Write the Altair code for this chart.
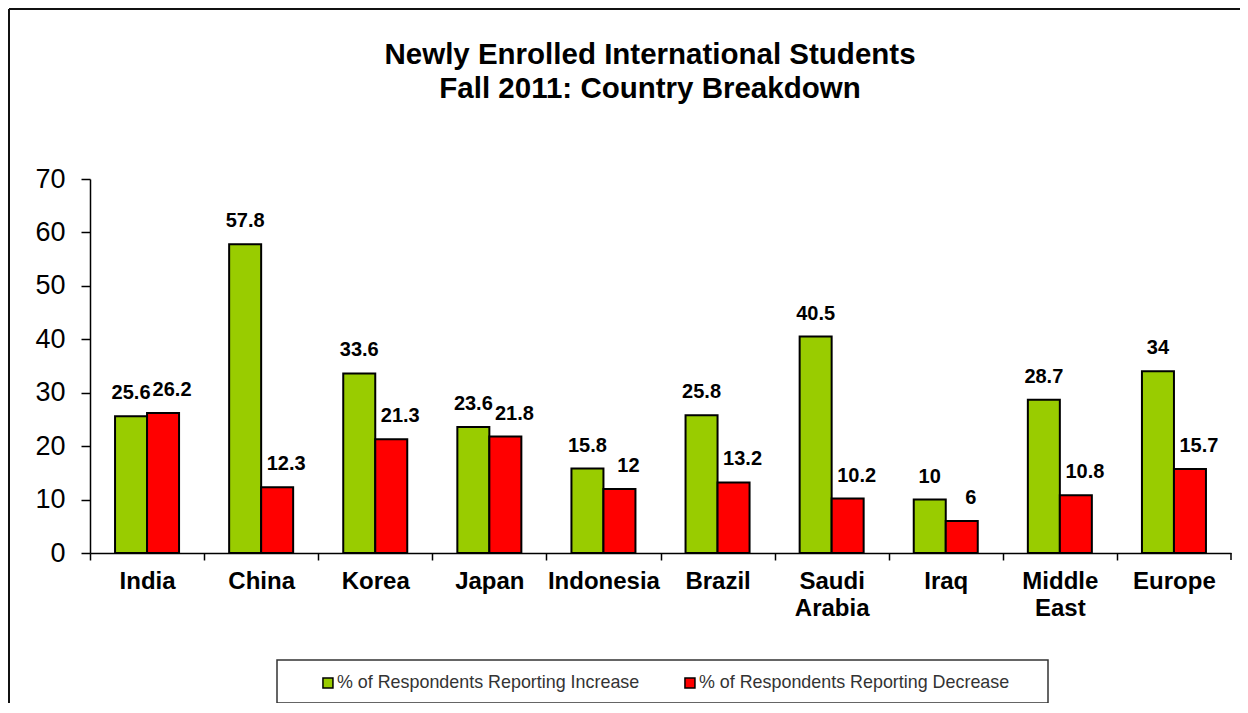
import altair as alt
import pandas as pd

title_lines = ["Newly Enrolled International Students", "Fall 2011: Country Breakdown"]
countries = ["India", "China", "Korea", "Japan", "Indonesia", "Brazil",
             "Saudi Arabia", "Iraq", "Middle East", "Europe"]
increase = [25.6, 57.8, 33.6, 23.6, 15.8, 25.8, 40.5, 10, 28.7, 34]
decrease = [26.2, 12.3, 21.3, 21.8, 12, 13.2, 10.2, 6, 10.8, 15.7]
series = ["% of Respondents Reporting Increase", "% of Respondents Reporting Decrease"]
colors = ["#99CC00", "#FF0000"]
y_ticks = [0, 10, 20, 30, 40, 50, 60, 70]

rows = []
for c, a, b in zip(countries, increase, decrease):
    rows.append({"country": c, "series": series[0], "value": a})
    rows.append({"country": c, "series": series[1], "value": b})
df = pd.DataFrame(rows)
one = pd.DataFrame({"k": [0]})

W, H = 1141, 374
FONT = "Liberation Sans"

xenc = alt.X("country:N", sort=countries, title=None,
             scale=alt.Scale(paddingInner=0.439, paddingOuter=0.2195),
             axis=alt.Axis(labelAngle=0, labelFont=FONT, labelFontSize=24,
                           labelFontWeight="bold", labelColor="black",
                           labelExpr="split(datum.label, ' ')", labelLineHeight=27,
                           labelPadding=9, tickSize=7, tickColor="black",
                           tickOffset=-57.05, labelOffset=57.05, bandPosition=0.5,
                           domainColor="black", domainWidth=1.5, tickWidth=1.5,
                           labelBaseline="top"))
yenc = alt.Y("value:Q", title=None,
             scale=alt.Scale(domain=[0, 70], nice=False),
             axis=alt.Axis(values=y_ticks, grid=False, labelFont=FONT, labelFontSize=27,
                           labelColor="black", labelPadding=16, tickSize=9,
                           tickColor="black", domainColor="black", domainWidth=1.5,
                           tickWidth=1.5))
xoff = alt.XOffset("series:N", sort=series, scale=alt.Scale(domain=series, paddingInner=0, paddingOuter=0))

bars = alt.Chart(df).mark_bar(stroke="black", strokeWidth=2).encode(
    x=xenc, y=yenc, xOffset=xoff,
    color=alt.Color("series:N", scale=alt.Scale(domain=series, range=colors),
                    legend=alt.Legend(title=None, orient="none", direction="horizontal",
                                      legendX=229, legendY=495, padding=0,
                                      symbolType="square", symbolSize=100,
                                      symbolStrokeColor="black", symbolStrokeWidth=1.5,
                                      labelFont=FONT, labelFontSize=17.9, labelColor="#333333",
                                      labelOffset=0, columnPadding=41, labelLimit=400)),
)

def label_layer(name, shift):
    return alt.Chart(df).transform_filter(alt.datum.series == name).mark_text(
        font=FONT, fontSize=20, fontWeight="bold", color="black",
        baseline="middle", dy=-23, dx=shift).encode(
        x=alt.X("country:N", sort=countries),
        y="value:Q", xOffset=xoff,
        text=alt.Text("value:Q"),
    )

labels_inc = label_layer(series[0], 0)
labels_dec = label_layer(series[1], 9)

last_tick = alt.Chart(one).mark_rule(color="black", strokeWidth=1.5).encode(
    x=alt.value(W), y=alt.value(H), y2=alt.value(H + 7))

legend_box = alt.Chart(one).mark_rect(fill=None, stroke="#333333", strokeWidth=1.5, filled=False).encode(
    x=alt.value(187), x2=alt.value(958), y=alt.value(481), y2=alt.value(524))

frame_top = alt.Chart(one).mark_rule(color="#111111", strokeWidth=2).encode(
    x=alt.value(-81), x2=alt.value(1300), y=alt.value(-170))
frame_left = alt.Chart(one).mark_rule(color="#111111", strokeWidth=2).encode(
    x=alt.value(-81), y=alt.value(-170), y2=alt.value(700))

title = alt.Chart(one).mark_text(
    text=title_lines, font=FONT, fontSize=29.5, fontWeight="bold", color="black",
    align="center", baseline="alphabetic", lineHeight=34).encode(
    x=alt.value(560), y=alt.value(-115))

chart = alt.layer(frame_top, frame_left, legend_box, title, bars, labels_inc, labels_dec, last_tick).properties(
    width=W, height=H,
    background="white",
    autosize=alt.AutoSizeParams(type="none"),
    padding={"left": 82, "top": 171, "right": 9, "bottom": 150},
).configure_view(stroke=None, strokeWidth=0)

chart.save("out.html", embed_options={"renderer": "svg", "actions": False})
